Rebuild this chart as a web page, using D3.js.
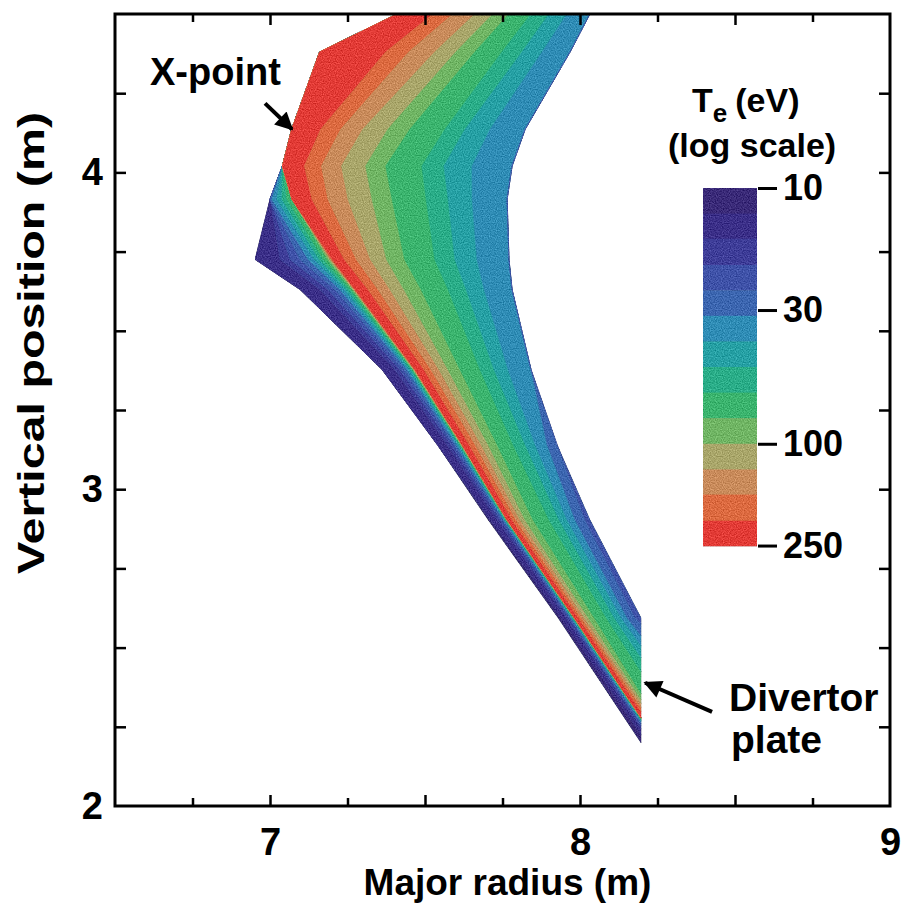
<!DOCTYPE html>
<html>
<head>
<meta charset="utf-8">
<script src="https://cdn.jsdelivr.net/npm/d3@7"></script>
<style>
  body { margin: 0; background: #fff; }
  text { font-family: "Liberation Sans", Arial, Helvetica, sans-serif; font-weight: bold; fill: #000; }
</style>
</head>
<body>
<svg id="chart" width="904" height="909"></svg>
<script>
// Electron temperature bands (eV, log scale) and their fill colours
const teLevels = [10, 12.6, 15.8, 20, 25.1, 31.6, 39.8, 50.1, 63.1, 79.4, 100, 126, 158, 200, 251];
const bandColors = ["#3a2a78", "#3b2f88", "#3e3d98", "#3f52a8", "#3c66b0", "#2f8cb5",
                    "#26a0a4", "#2aad88", "#3bb46e", "#70b564", "#a9a66a", "#c98b5b",
                    "#dc6a40", "#e23b36"];
const colorbarTicks = [10, 30, 100, 250];

// Axis ticks (m)
const xLabelTicks = [7, 8, 9];
const yLabelTicks = [2, 3, 4];
const xMajorTicks = [7, 7.5, 8, 8.5];
const xMinorTicks = [6.75, 7.25, 7.75, 8.25, 8.75];
const yTicks = [2.25, 2.5, 2.75, 3, 3.25, 3.5, 3.75, 4, 4.25];

// Divertor leg: cross-leg cuts, from the private-flux side (left end)
// to the outer scrape-off-layer side (right end), top of the leg to the plate
const stationLeft = [[7.41, 4.5], [7.16, 4.38], [7.07, 4.136], [7.04, 4.02], [7.0, 3.915], [6.952, 3.725],
                     [7.097, 3.63], [7.361, 3.378], [7.539, 3.141], [7.703, 2.904], [7.929, 2.594], [8.197, 2.199]];
const stationRight = [[8.032, 4.5], [7.968, 4.38], [7.823, 4.136], [7.781, 4.02], [7.765, 3.915], [7.771, 3.725],
                      [7.781, 3.63], [7.842, 3.378], [7.926, 3.141], [8.032, 2.904], [8.197, 2.594], [8.197, 2.594]];

// Temperature band met along each cut: private flux region rising to the
// separatrix peak, then falling across the scrape-off layer
const bandSequence = [0, 1, 2, 3, 4, 5, 6, 7, 8, 9, 10, 11, 12, 13, 12, 11, 10, 9, 8, 7, 6, 5, 4, 3];

// Relative width of each band along each cut (same order as bandSequence)
const bandWidths = [
  [0, 0, 0, 0, 0, 0, 0, 0, 0, 0, 0, 0, 0, 36, 20, 22, 18, 16, 22, 18, 18, 23, 0, 0],
  [0, 0, 0, 0, 0, 0, 0, 0, 0, 0, 0, 0, 0, 66, 23, 26, 21, 19, 27, 20, 20, 28, 0, 0],
  [0, 0, 0, 0, 0, 0, 0, 0, 0, 0, 0, 0, 0, 29, 20, 22, 25, 22, 35, 20, 25, 35, 0, 0],
  [0, 0, 0, 0, 0, 0, 0, 0, 0, 0, 0, 0, 0, 22, 17, 20, 24, 20, 36, 22, 28, 40, 0, 0],
  [0, 0, 0, 0, 2, 5, 5, 5, 5, 0, 0, 0, 0, 20, 16, 20, 24, 20, 34, 22, 24, 35, 0, 0],
  [0, 25, 10, 10, 8, 6, 5, 4, 4, 2, 1, 1, 1, 12, 12, 14, 16, 18, 30, 20, 22, 32, 0, 0],
  [0, 20, 8, 7, 5, 4, 3, 3, 2, 1, 1, 0.5, 0.5, 13, 10, 12, 14, 17, 27, 18, 18, 28, 0, 0],
  [0, 13, 5, 4, 3, 2, 2, 1, 1, 0.5, 0.5, 0.5, 0.5, 9, 7, 8, 9, 12, 20, 14, 14, 23, 0, 0],
  [0, 10, 4, 3, 2, 2, 1, 1, 0.5, 0.5, 0.5, 0.25, 0.25, 7, 6, 6, 7, 9, 16, 12, 10, 12, 10, 0],
  [2, 7, 3, 2, 1.5, 1, 0.75, 0.5, 0.5, 0.25, 0.25, 0.125, 0.125, 5, 4, 4, 5, 8, 16, 10, 8, 8, 10, 5],
  [3, 5, 2.5, 1.5, 1, 1, 0.75, 0.5, 0.5, 0.25, 0.25, 0.125, 0.125, 4, 3, 3, 4, 6, 12, 8, 7, 6, 8, 6],
  [8, 6, 3, 2, 2, 1.5, 1, 0.5, 0.5, 0.25, 0.25, 0.25, 0.25, 6, 4, 4, 4, 6, 22, 14, 12, 10, 12, 6]
];

// Annotations: X-point and divertor plate strike region (m)
const xPoint = [7.071, 4.136];
const xPointArrowTail = [6.984, 4.218];
const plateArrowTip = [8.21, 2.389];
const plateArrowTail = [8.426, 2.297];

const svg = d3.select("#chart");
const x = d3.scaleLinear().domain([6.5, 9]).range([115, 890]);
const y = d3.scaleLinear().domain([2, 4.5]).range([806, 14]);
const line = d3.line().x(d => x(d[0])).y(d => y(d[1]));

const defs = svg.append("defs");
defs.append("clipPath").attr("id", "plot-clip")
  .append("rect").attr("x", 115).attr("y", 14).attr("width", 775).attr("height", 792);
const marker = defs.append("marker").attr("id", "arrowhead")
  .attr("viewBox", "0 0 10 10").attr("refX", 9).attr("refY", 5)
  .attr("markerWidth", 5.5).attr("markerHeight", 4.5).attr("markerUnits", "strokeWidth")
  .attr("orient", "auto");
marker.append("path").attr("d", "M0,0 L10,5 L0,10 Z").attr("fill", "#000");

// printed-ink speckle over the filled colours
const grain = defs.append("filter").attr("id", "grain")
  .attr("color-interpolation-filters", "sRGB")
  .attr("x", 0).attr("y", 0).attr("width", "100%").attr("height", "100%");
grain.append("feTurbulence").attr("type", "fractalNoise").attr("baseFrequency", 0.85)
  .attr("numOctaves", 1).attr("seed", 7).attr("result", "noise");
grain.append("feColorMatrix").attr("in", "noise").attr("type", "matrix")
  .attr("values", "1 0 0 0 0  1 0 0 0 0  1 0 0 0 0  0 0 0 0 1").attr("result", "gray");
grain.append("feComposite").attr("in", "SourceGraphic").attr("in2", "gray")
  .attr("operator", "arithmetic").attr("k1", 0).attr("k2", 1).attr("k3", 0.4).attr("k4", -0.2)
  .attr("result", "speck");
grain.append("feComposite").attr("in", "speck").attr("in2", "SourceAlpha").attr("operator", "in");

// ---- temperature field of the divertor leg ----
const cuts = bandWidths.map((w, s) => {
  const total = d3.sum(w);
  const cum = [0, ...d3.cumsum(w)].map(v => v / total);
  const L = stationLeft[s], R = stationRight[s];
  return cum.map(t => [L[0] + (R[0] - L[0]) * t, L[1] + (R[1] - L[1]) * t]);
});

const field = svg.append("g").attr("clip-path", "url(#plot-clip)")
  .append("g").attr("filter", "url(#grain)");
const outline = stationLeft.concat(stationRight.slice().reverse());
field.append("path").attr("d", line(outline) + "Z").attr("fill", bandColors[8]);

field.selectAll("path.band")
  .data(bandSequence.map((band, j) => ({ band, j })))
  .join("path")
  .attr("class", "band")
  .attr("d", d => line(cuts.map(c => c[d.j]).concat(cuts.map(c => c[d.j + 1]).reverse())) + "Z")
  .attr("fill", d => bandColors[d.band])
  .attr("stroke", d => bandColors[d.band])
  .attr("stroke-width", 0.6)
  .attr("stroke-linejoin", "round");

// ---- axes: inward ticks on all four sides ----
function ticks(axisFn, values, len, transform) {
  svg.append("g").attr("transform", transform)
    .call(axisFn.tickValues(values).tickSize(-len).tickFormat(""));
}
ticks(d3.axisBottom(x), xMajorTicks, 11, `translate(0,${y(2)})`);
ticks(d3.axisBottom(x), xMinorTicks, 8, `translate(0,${y(2)})`);
ticks(d3.axisTop(x), xMajorTicks, 11, `translate(0,${y(4.5)})`);
ticks(d3.axisTop(x), xMinorTicks, 8, `translate(0,${y(4.5)})`);
ticks(d3.axisLeft(y), yTicks, 11, `translate(${x(6.5)},0)`);
ticks(d3.axisRight(y), yTicks, 11, `translate(${x(9)},0)`);
svg.selectAll(".domain").remove();
svg.selectAll(".tick line").attr("stroke", "#000").attr("stroke-width", 2.5);

svg.append("rect")
  .attr("x", x(6.5)).attr("y", y(4.5))
  .attr("width", x(9) - x(6.5)).attr("height", y(2) - y(4.5))
  .attr("fill", "none").attr("stroke", "#000").attr("stroke-width", 3);

// tick labels
const xLab = svg.append("g").attr("transform", `translate(0,${y(2)})`)
  .call(d3.axisBottom(x).tickValues(xLabelTicks).tickSize(0).tickPadding(22).tickFormat(d3.format("d")));
const yLab = svg.append("g").attr("transform", `translate(${x(6.5)},0)`)
  .call(d3.axisLeft(y).tickValues(yLabelTicks).tickSize(0).tickPadding(12).tickFormat(d3.format("d")));
[xLab, yLab].forEach(a => {
  a.select(".domain").remove();
  a.selectAll("text").attr("font-size", 38).attr("font-family", "Liberation Sans, Arial, sans-serif")
    .attr("font-weight", "bold").attr("fill", "#000");
});

// axis titles
svg.append("text").attr("x", (x(6.5) + x(9)) / 2 + 5).attr("y", 895)
  .attr("text-anchor", "middle").attr("font-size", 37).text("Major radius (m)");
svg.append("text").attr("transform", `translate(44,${(y(2) + y(4.5)) / 2 - 67}) rotate(-90)`)
  .attr("text-anchor", "middle").attr("font-size", 37)
  .attr("textLength", 462).attr("lengthAdjust", "spacingAndGlyphs")
  .text("Vertical position (m)");

// ---- annotations ----
svg.append("line")
  .attr("x1", x(xPointArrowTail[0])).attr("y1", y(xPointArrowTail[1]))
  .attr("x2", x(xPoint[0])).attr("y2", y(xPoint[1]))
  .attr("stroke", "#000").attr("stroke-width", 4).attr("marker-end", "url(#arrowhead)");
svg.append("text").attr("x", 150).attr("y", 85).attr("font-size", 38).text("X-point");

svg.append("line")
  .attr("x1", x(plateArrowTail[0])).attr("y1", y(plateArrowTail[1]))
  .attr("x2", x(plateArrowTip[0])).attr("y2", y(plateArrowTip[1]))
  .attr("stroke", "#000").attr("stroke-width", 4).attr("marker-end", "url(#arrowhead)");
svg.append("text").attr("x", 729).attr("y", 711).attr("font-size", 39).text("Divertor");
svg.append("text").attr("x", 731).attr("y", 753).attr("font-size", 39).text("plate");

// ---- colour bar ----
const cb = d3.scaleLog().domain([10, 251]).range([188, 546]);
const cbX = 703, cbW = 54;
svg.append("g").attr("filter", "url(#grain)").selectAll("rect")
  .data(d3.range(bandColors.length))
  .join("rect")
  .attr("x", cbX).attr("width", cbW)
  .attr("y", k => cb(teLevels[k]))
  .attr("height", k => cb(teLevels[k + 1]) - cb(teLevels[k]) + 0.5)
  .attr("fill", k => bandColors[k]);

const cbAxis = svg.append("g").attr("transform", `translate(${cbX + cbW + 1},0)`)
  .call(d3.axisRight(cb).tickValues(colorbarTicks).tickSize(19).tickPadding(6).tickFormat(d3.format("d")));
cbAxis.select(".domain").remove();
cbAxis.selectAll("line").attr("stroke", "#000").attr("stroke-width", 3);
cbAxis.selectAll("text").attr("font-size", 36).attr("font-family", "Liberation Sans, Arial, sans-serif")
  .attr("font-weight", "bold").attr("fill", "#000");

const title = svg.append("text").attr("x", 692).attr("y", 112).attr("font-size", 34);
title.append("tspan").text("T");
title.append("tspan").attr("font-size", 26).attr("dy", 10).text("e");
title.append("tspan").attr("dy", -10).attr("dx", 8).text("(eV)");
svg.append("text").attr("x", 668).attr("y", 157).attr("font-size", 34).text("(log scale)");
</script>
</body>
</html>
